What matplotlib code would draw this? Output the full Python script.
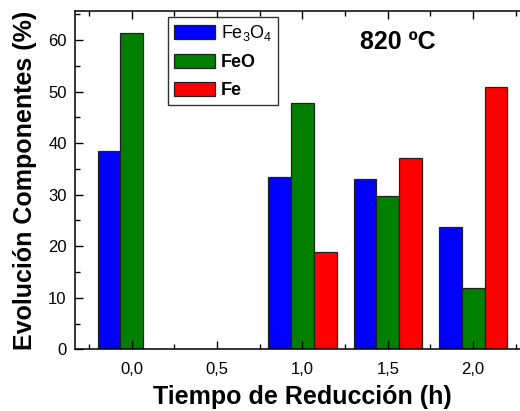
import matplotlib.pyplot as plt
import numpy as np
from matplotlib.ticker import MultipleLocator

plt.rcParams['font.family'] = ['Liberation Sans', 'DejaVu Sans']
plt.rcParams['mathtext.fontset'] = 'custom'
plt.rcParams['mathtext.rm'] = 'Liberation Sans'
plt.rcParams['mathtext.it'] = 'Liberation Sans'

tiempo = [0.0, 0.5, 1.0, 1.5, 2.0]
fe3o4 = [38.5, 0, 33.4, 33.0, 23.7]
feo = [61.4, 0, 47.8, 29.7, 11.9]
fe = [0, 0, 18.8, 37.2, 50.9]
etiquetas = ["Fe$_3$O$_4$", "FeO", "Fe"]
colores = ['#0000ff', '#007f00', '#ff0000']

fig = plt.figure(figsize=(5.2, 4.11), dpi=100)
ax = fig.add_axes([0.1442, 0.150, 0.875, 0.823])

x = np.array(tiempo)
w = 0.1333
series = [fe3o4, feo, fe]
for i, (vals, c, lab) in enumerate(zip(series, colores, etiquetas)):
    ax.bar(x + (i - 1) * w, vals, width=w, color=c, edgecolor='#222222',
           linewidth=0.9, label=lab)

ax.set_xlim(-0.333, 2.333)
ax.set_ylim(0, 65.6)
ax.xaxis.set_minor_locator(MultipleLocator(0.25))
ax.yaxis.set_major_locator(MultipleLocator(10))
ax.yaxis.set_minor_locator(MultipleLocator(5))
ax.set_xticks(tiempo)
ax.set_xticklabels(["0,0", "0,5", "1,0", "1,5", "2,0"])
ax.tick_params(which='both', direction='in', top=True, right=False,
               labelsize=12, width=1)
ax.tick_params(which='major', length=6)
ax.tick_params(axis='x', which='major', pad=9)
ax.tick_params(axis='y', which='major', pad=6)
ax.tick_params(which='minor', length=3.5)
for s in ax.spines.values():
    s.set_linewidth(1.1)
ax.spines['right'].set_visible(False)

ax.set_xlabel("Tiempo de Reducción (h)", fontsize=18, fontweight='bold', labelpad=6)
ax.set_ylabel("Evolución Componentes (%)", fontsize=18, fontweight='bold', labelpad=8)

ax.text(0.71, 0.908, "820 ºC", transform=ax.transAxes, fontsize=18,
        fontweight='bold', ha='center', va='center')

leg = ax.legend(loc='upper left', bbox_to_anchor=(0.204, 0.982), fontsize=13,
                frameon=True, fancybox=False, edgecolor='black',
                borderaxespad=0, handlelength=2.3, handleheight=0.8,
                labelspacing=0.6, borderpad=0.32, handletextpad=0.3)
leg.get_frame().set_linewidth(1.0)
for t in leg.get_texts()[1:]:
    t.set_fontweight('bold')

fig.savefig("out.png", dpi=100)
